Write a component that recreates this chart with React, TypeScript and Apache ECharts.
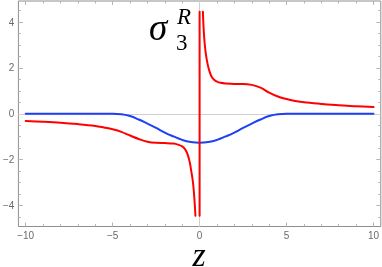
import React, { useEffect, useRef } from "react";
import * as echarts from "echarts";

// ---- data ----
const xRange = [-10.42, 10.42];
const yRange = [-4.92, 4.92];
const xMajorTicks = [-10, -5, 0, 5, 10];
const xMinorTicks = [-10, -9, -8, -7, -6, -5, -4, -3, -2, -1, 0, 1, 2, 3, 4, 5, 6, 7, 8, 9, 10];
const yMajorTicks = [-4, -2, 0, 2, 4];
const yMinorTicks = [-4.5, -4, -3.5, -3, -2.5, -2, -1.5, -1, -0.5, 0, 0.5, 1, 1.5, 2, 2.5, 3, 3.5, 4, 4.5];

const blueZ = [-10, -9, -8, -7, -6, -5, -4.5, -4, -3.5, -3, -2.5, -2, -1.5, -1, -0.5, 0, 0.5, 1, 1.5, 2, 2.5, 3, 3.5, 4, 4.5, 5, 6, 7, 8, 9, 10];
const blueV = [0, 0, 0, 0, 0, 0, -0.02, -0.1, -0.25, -0.43, -0.62, -0.82, -0.99, -1.14, -1.23, -1.26, -1.23, -1.14, -0.99, -0.82, -0.62, -0.43, -0.25, -0.1, -0.02, 0, 0, 0, 0, 0, 0];

const redLeftZ = [-10, -9, -8, -7, -6, -5.5, -5, -4.5, -4, -3.5, -3, -2.5, -2, -1.5, -1.2, -1, -0.85, -0.7, -0.57, -0.48, -0.38, -0.3, -0.24];
const redLeftV = [-0.32, -0.35, -0.39, -0.45, -0.53, -0.6, -0.68, -0.79, -0.95, -1.1, -1.22, -1.27, -1.28, -1.3, -1.36, -1.42, -1.53, -1.75, -2.1, -2.5, -3.0, -3.7, -4.45];

const redPoleZ = [0, 0];
const redPoleV = [-4.45, 4.45];

const redRightZ = [0.19, 0.24, 0.3, 0.38, 0.48, 0.57, 0.7, 0.85, 1, 1.2, 1.5, 2, 2.5, 3, 3.5, 4, 4.5, 5, 5.5, 6, 7, 8, 9, 10];
const redRightV = [4.45, 3.6, 3.0, 2.5, 2.1, 1.85, 1.6, 1.47, 1.4, 1.35, 1.32, 1.3, 1.3, 1.26, 1.14, 0.92, 0.75, 0.64, 0.56, 0.5, 0.43, 0.37, 0.33, 0.29];

const zip = (xs: number[], ys: number[]) => xs.map((x, i) => [x, ys[i]]);
const fmt = (v: number) => (v < 0 ? "\u2212" + Math.abs(v) : String(v));

const RED = "#ff0000";
const BLUE = "#1e3ff6";
const FRAME = "#8e8e8e";
const TICK = "#b4b4b4";
const LABEL = "#6a6a6a";

export default function App() {
  const ref = useRef<HTMLDivElement>(null);
  useEffect(() => {
    if (!ref.current) return;
    const chart = echarts.init(ref.current, null, { renderer: "svg" });

    const xAxisBase = (position: "top" | "bottom", ticks: number[], len: number, labels: boolean) => ({
      type: "value",
      position,
      min: xRange[0],
      max: xRange[1],
      axisLine: { show: false, onZero: false },
      splitLine: { show: false },
      axisTick: { show: true, inside: true, length: len, customValues: ticks, lineStyle: { color: TICK, width: 1 } },
      axisLabel: labels
        ? { show: true, customValues: xMajorTicks, formatter: fmt, color: LABEL, fontSize: 10, fontFamily: "Liberation Sans", margin: 4 }
        : { show: false },
    });
    const yAxisBase = (position: "left" | "right", ticks: number[], len: number, labels: boolean) => ({
      type: "value",
      position,
      min: yRange[0],
      max: yRange[1],
      axisLine: { show: false, onZero: false },
      splitLine: { show: false },
      axisTick: { show: true, inside: true, length: len, customValues: ticks, lineStyle: { color: TICK, width: 1 } },
      axisLabel: labels
        ? { show: true, customValues: yMajorTicks, formatter: fmt, color: LABEL, fontSize: 10, fontFamily: "Liberation Sans", margin: 4 }
        : { show: false },
    });

    const lineSeries = (data: number[][], color: string, smooth: number | boolean) => ({
      type: "line",
      data,
      xAxisIndex: 0,
      yAxisIndex: 0,
      showSymbol: false,
      symbol: "none",
      smooth,
      clip: true,
      lineStyle: { color, width: 2, cap: "round", join: "round" },
    });

    chart.setOption({
      animation: false,
      grid: {
        left: 16,
        top: 1,
        right: 1,
        bottom: 40.5,
        show: true,
        borderColor: FRAME,
        borderWidth: 1,
        backgroundColor: "transparent",
      },
      xAxis: [
        xAxisBase("bottom", xMajorTicks, 4, true),
        xAxisBase("bottom", xMinorTicks, 2.5, false),
        xAxisBase("top", xMajorTicks, 4, false),
        xAxisBase("top", xMinorTicks, 2.5, false),
      ],
      yAxis: [
        yAxisBase("left", yMajorTicks, 4.5, true),
        yAxisBase("left", yMinorTicks, 2.5, false),
        yAxisBase("right", yMajorTicks, 4.5, false),
        yAxisBase("right", yMinorTicks, 2.5, false),
      ],
      series: [
        {
          ...lineSeries(zip(blueZ, blueV), BLUE, 0.5),
          markLine: {
            silent: true,
            z: 1,
            symbol: "none",
            label: { show: false },
            lineStyle: { color: "#d0d0d0", width: 1, type: "solid" },
            data: [{ yAxis: 0 }, { xAxis: 0 }],
          },
        },
        lineSeries(zip(redLeftZ, redLeftV), RED, 0.35),
        lineSeries(zip(redPoleZ, redPoleV), RED, false),
        lineSeries(zip(redRightZ, redRightV), RED, 0.35),
      ],
      graphic: [
        {
          type: "text",
          x: 149,
          y: 27,
          style: { text: "\u03c3", font: "italic 37px 'Liberation Serif'", lineHeight: 26, fill: "#000", textAlign: "left", textVerticalAlign: "middle" },
        },
        {
          type: "text",
          x: 176,
          y: 42,
          style: { text: "3", font: "23px 'Liberation Serif'", lineHeight: 18, fill: "#000", textAlign: "left", textVerticalAlign: "middle" },
        },
        {
          type: "text",
          x: 177,
          y: 16,
          style: { text: "R", font: "italic 23px 'Liberation Serif'", lineHeight: 18, fill: "#000", textAlign: "left", textVerticalAlign: "middle" },
        },
        {
          type: "text",
          x: 199,
          y: 254,
          style: { text: "z", font: "italic 34px 'Liberation Serif'", lineHeight: 22, fill: "#000", textAlign: "center", textVerticalAlign: "middle" },
        },
      ],
    });
    return () => chart.dispose();
  }, []);
  return <div ref={ref} style={{ width: 382, height: 267, position: "fixed", left: 0, top: 0 }} />;
}
